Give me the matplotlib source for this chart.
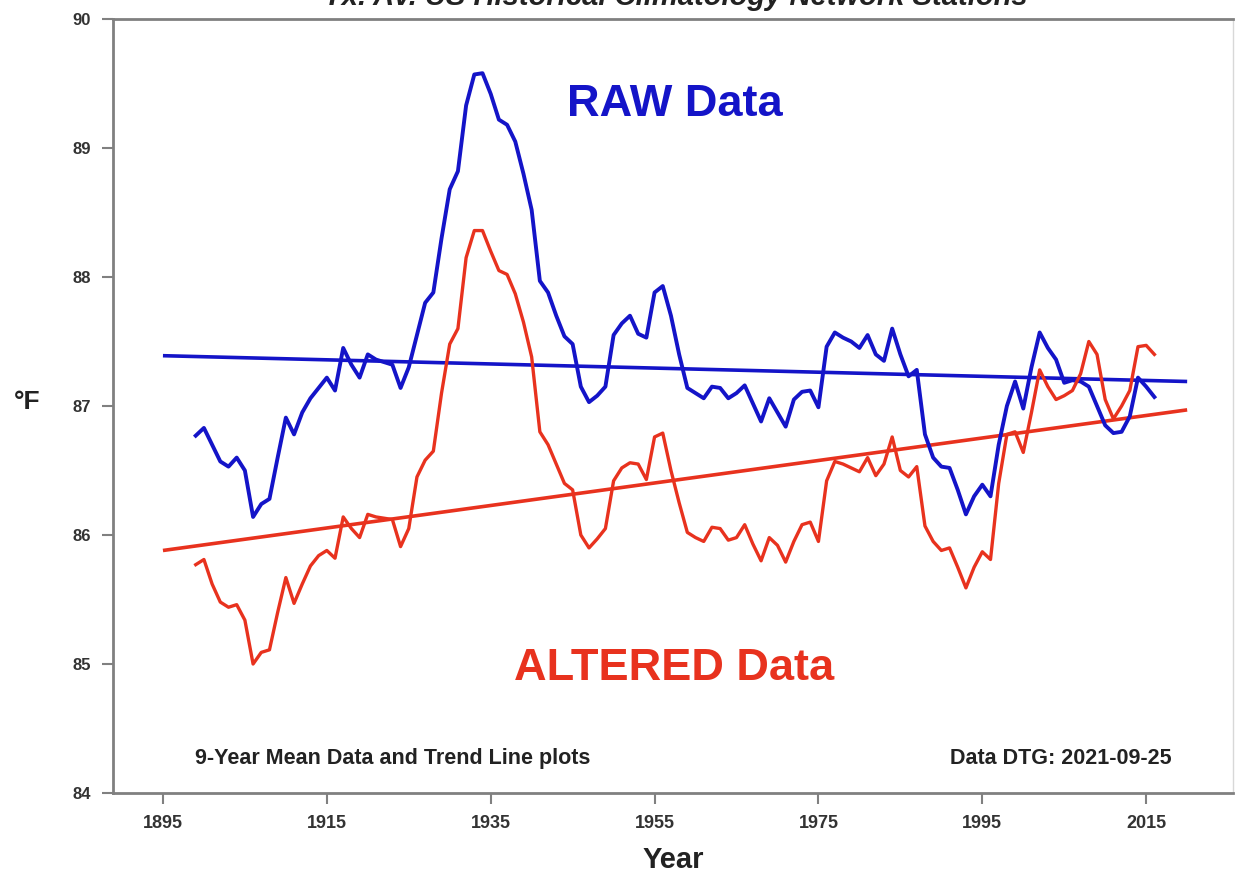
import matplotlib.pyplot as plt

plt.rcParams['font.family'] = ['Liberation Sans', 'DejaVu Sans']

# 9-year mean values, one per year
years = list(range(1899, 2017))

raw_data = [
    86.77, 86.83, 86.70, 86.57, 86.53, 86.60, 86.50, 86.14, 86.24, 86.28,  # 1899-1908
    86.60, 86.91, 86.78, 86.95, 87.06, 87.14, 87.22, 87.12, 87.45, 87.32,  # 1909-1918
    87.22, 87.40, 87.36, 87.34, 87.32, 87.14, 87.30, 87.55, 87.80, 87.88,  # 1919-1928
    88.30, 88.68, 88.82, 89.33, 89.57, 89.58, 89.42, 89.22, 89.18, 89.05,  # 1929-1938
    88.80, 88.52, 87.97, 87.88, 87.70, 87.54, 87.48, 87.15, 87.03, 87.08,  # 1939-1948
    87.15, 87.55, 87.64, 87.70, 87.56, 87.53, 87.88, 87.93, 87.70, 87.40,  # 1949-1958
    87.14, 87.10, 87.06, 87.15, 87.14, 87.06, 87.10, 87.16, 87.02, 86.88,  # 1959-1968
    87.06, 86.95, 86.84, 87.05, 87.11, 87.12, 86.99, 87.46, 87.57, 87.53,  # 1969-1978
    87.50, 87.45, 87.55, 87.40, 87.35, 87.60, 87.40, 87.23, 87.28, 86.78,  # 1979-1988
    86.60, 86.53, 86.52, 86.35, 86.16, 86.30, 86.39, 86.30, 86.70, 87.00,  # 1989-1998
    87.19, 86.98, 87.30, 87.57, 87.45, 87.36, 87.18, 87.20, 87.19, 87.15,  # 1999-2008
    87.00, 86.85, 86.79, 86.80, 86.92, 87.22, 87.15, 87.07,                # 2009-2016
]

altered_data = [
    85.77, 85.81, 85.62, 85.48, 85.44, 85.46, 85.34, 85.00, 85.09, 85.11,
    85.40, 85.67, 85.47, 85.62, 85.76, 85.84, 85.88, 85.82, 86.14, 86.05,
    85.98, 86.16, 86.14, 86.13, 86.12, 85.91, 86.05, 86.45, 86.58, 86.65,
    87.10, 87.48, 87.60, 88.15, 88.36, 88.36, 88.20, 88.05, 88.02, 87.87,
    87.65, 87.38, 86.80, 86.70, 86.55, 86.40, 86.35, 86.00, 85.90, 85.97,
    86.05, 86.42, 86.52, 86.56, 86.55, 86.43, 86.76, 86.79, 86.50, 86.25,
    86.02, 85.98, 85.95, 86.06, 86.05, 85.96, 85.98, 86.08, 85.93, 85.80,
    85.98, 85.92, 85.79, 85.95, 86.08, 86.10, 85.95, 86.42, 86.57, 86.55,
    86.52, 86.49, 86.60, 86.46, 86.55, 86.76, 86.50, 86.45, 86.53, 86.07,
    85.95, 85.88, 85.90, 85.75, 85.59, 85.75, 85.87, 85.81, 86.40, 86.78,
    86.80, 86.64, 86.95, 87.28, 87.15, 87.05, 87.08, 87.12, 87.25, 87.50,
    87.40, 87.05, 86.90, 87.00, 87.12, 87.46, 87.47, 87.40,
]

# linear trend end points
trend_years = [1895, 2020]
raw_trend = [87.39, 87.19]
altered_trend = [85.88, 86.97]

x_ticks = [1895, 1915, 1935, 1955, 1975, 1995, 2015]
y_ticks = [84, 85, 86, 87, 88, 89, 90]

blue = '#1414c8'
red = '#e8321e'
gray = '#808080'

fig = plt.figure(figsize=(12.36, 8.72), dpi=100)
ax = fig.add_axes([0.0914, 0.0906, 0.9062, 0.8876])

ax.plot(trend_years, raw_trend, color=blue, lw=2.6, solid_capstyle='butt')
ax.plot(trend_years, altered_trend, color=red, lw=2.6, solid_capstyle='butt')
ax.plot(years, raw_data, color=blue, lw=2.8)
ax.plot(years, altered_data, color=red, lw=2.4)

ax.set_xlim(1888.9, 2025.6)
ax.set_ylim(84, 90)
ax.set_xticks(x_ticks)
ax.set_yticks(y_ticks)
ax.set_xticklabels([str(t) for t in x_ticks], fontsize=13, fontweight='bold', color='#333333')
ax.set_yticklabels([str(t) for t in y_ticks], fontsize=12, fontweight='bold', color='#333333')
ax.tick_params(direction='out', length=8, width=1.5, color=gray, pad=8)

for side in ['left', 'bottom', 'top']:
    ax.spines[side].set_color(gray)
    ax.spines[side].set_linewidth(2)
ax.spines['right'].set_color('#d8d8d8')
ax.spines['right'].set_linewidth(1)

ax.set_xlabel('Year', fontsize=21, fontweight='bold', color='#222222', labelpad=10)
ax.set_ylabel('°F', fontsize=19, fontweight='bold', color='#222222', rotation=0,
              ha='center', va='center')
ax.yaxis.set_label_coords(-0.077, 0.505)

ax.text(0.502, 0.889, 'RAW Data', transform=ax.transAxes, ha='center', va='center',
        fontsize=32.5, fontweight='bold', color=blue)
ax.text(0.501, 0.161, 'ALTERED Data', transform=ax.transAxes, ha='center', va='center',
        fontsize=32.5, fontweight='bold', color=red)
ax.text(0.073, 0.045, '9-Year Mean Data and Trend Line plots', transform=ax.transAxes,
        ha='left', va='center', fontsize=15.5, fontweight='bold', color='#222222')
ax.text(0.945, 0.045, 'Data DTG: 2021-09-25', transform=ax.transAxes,
        ha='right', va='center', fontsize=15.5, fontweight='bold', color='#222222')

# title sits at the very top and is partly cut off, as in the source image
fig.text(0.547, 1.004, 'Tx. Av. US Historical Climatology Network Stations', ha='center', va='center',
         fontsize=21, fontweight='bold', fontstyle='italic', color='#222222')

plt.savefig('out.png', dpi=100)
